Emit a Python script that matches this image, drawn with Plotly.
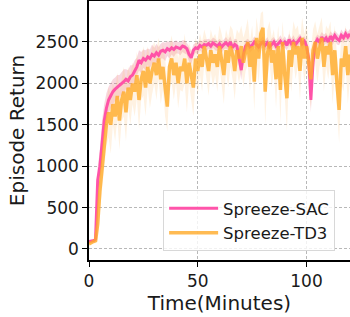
import plotly.graph_objects as go

time_min = list(range(0, 121))

sac_mean = [90, 95, 100, 120, 830, 1000, 1300, 1550, 1700, 1800,
            1850, 1900, 1930, 1950, 1970, 2000, 2020, 2050, 2030, 2080,
            2100, 2150, 2200, 2280, 2250, 2300, 2280, 2320, 2300, 2350,
            2330, 2370, 2340, 2390, 2400, 2380, 2420, 2400, 2430, 2410,
            2440, 2430, 2420, 2450, 2440, 2420, 2350, 2310, 2400, 2430,
            2420, 2460, 2440, 2470, 2460, 2480, 2450, 2490, 2470, 2450,
            2480, 2440, 2470, 2490, 2460, 2500, 2430, 2470, 2450, 2300,
            2160, 2350, 2450, 2480, 2440, 2460, 2500, 2470, 2440, 2480,
            2500, 2460, 2490, 2440, 2470, 2500, 2450, 2480, 2510, 2470,
            2500, 2460, 2530, 2480, 2510, 2470, 2500, 2540, 2480, 2510,
            2450, 2300, 1800, 2250, 2480, 2530, 2500, 2560, 2520, 2550,
            2500, 2570, 2530, 2580, 2540, 2520, 2580, 2550, 2600, 2560,
            2600]

sac_std = [20, 20, 20, 30, 150, 200, 250, 200, 180, 160,
           150, 150, 140, 150, 130, 140, 150, 120, 130, 140,
           120, 130, 110, 120, 130, 110, 120, 100, 110, 120,
           100, 110, 100, 90, 100, 110, 90, 100, 80, 90,
           80, 70, 80, 70, 80, 70, 90, 80, 70, 60,
           70, 60, 70, 60, 70, 60, 70, 60, 70, 60,
           60, 70, 60, 70, 60, 70, 60, 70, 80, 100,
           120, 90, 70, 60, 70, 60, 70, 60, 70, 60,
           70, 60, 70, 60, 70, 60, 70, 60, 70, 60,
           70, 60, 70, 60, 70, 60, 70, 60, 70, 60,
           80, 120, 150, 120, 70, 60, 70, 60, 70, 60,
           70, 60, 70, 60, 70, 60, 70, 60, 70, 60,
           60]

td3_mean = [60, 80, 90, 100, 300, 700, 1000, 1300, 1500, 1650,
            1500, 1750, 1600, 1850, 1550, 1800, 1900, 1650, 1950, 1800,
            2000, 1900, 2100, 1800, 2050, 2150, 1950, 2200, 2000, 2150,
            2250, 2100, 2300, 2050, 2200, 1950, 1720, 2200, 2300, 2100,
            2250, 2000, 2200, 2150, 2300, 2000, 2250, 2100, 1950, 2300,
            2150, 2350, 2200, 2450, 2300, 2150, 2400, 2250, 2350, 2200,
            2450, 2300, 2100, 2400, 2250, 2450, 2350, 2150, 2400, 2300,
            2450, 2250, 2400, 2500, 2200, 2450, 2020, 2550, 2300, 2600,
            2670, 1900, 2350, 2500, 2250, 2400, 2050, 2450, 1920, 2500,
            2100, 1820, 2400, 2200, 2500, 2350, 2450, 2150, 2550, 2300,
            2450, 2200, 2050, 2400, 2500, 2300, 2450, 2550, 2200, 2450,
            2350, 2500, 2100, 2400, 2000, 1680, 2300, 2200, 2450, 2100,
            2350]

td3_std = [20, 20, 20, 30, 200, 250, 300, 280, 250, 300,
           350, 250, 300, 280, 350, 250, 300, 350, 250, 300,
           250, 300, 280, 350, 250, 300, 350, 250, 300, 280,
           250, 300, 250, 300, 280, 350, 300, 250, 280, 300,
           250, 300, 280, 250, 300, 350, 250, 300, 350, 250,
           300, 250, 300, 200, 250, 300, 250, 300, 250, 300,
           250, 300, 350, 250, 300, 250, 300, 350, 250, 300,
           250, 300, 250, 280, 300, 250, 350, 250, 300, 250,
           200, 400, 300, 250, 300, 250, 350, 250, 400, 250,
           300, 400, 250, 300, 250, 300, 250, 350, 250, 300,
           250, 300, 350, 250, 250, 300, 250, 250, 300, 250,
           300, 250, 350, 300, 350, 400, 300, 300, 250, 350,
           300]

y_ticks = [0, 500, 1000, 1500, 2000, 2500]
x_ticks = [0, 50, 100]

PINK = "rgba(255,75,165,0.95)"
ORANGE = "rgba(255,170,40,0.8)"
PINK_BAND = "rgba(230,110,140,0.28)"
ORANGE_BAND = "rgba(255,190,110,0.2)"

fig = go.Figure()

def add_band(mean, std, color):
    lo = [m - s for m, s in zip(mean, std)]
    hi = [m + s for m, s in zip(mean, std)]
    fig.add_trace(go.Scatter(x=time_min, y=lo, mode="lines", line=dict(width=0),
                             showlegend=False, hoverinfo="skip"))
    fig.add_trace(go.Scatter(x=time_min, y=hi, mode="lines", line=dict(width=0),
                             fill="tonexty", fillcolor=color,
                             showlegend=False, hoverinfo="skip"))

add_band(sac_mean, sac_std, PINK_BAND)
add_band(td3_mean, td3_std, ORANGE_BAND)

fig.add_trace(go.Scatter(x=time_min, y=sac_mean, mode="lines", name="Spreeze-SAC",
                         line=dict(color=PINK, width=3)))
fig.add_trace(go.Scatter(x=time_min, y=td3_mean, mode="lines", name="Spreeze-TD3",
                         line=dict(color=ORANGE, width=3.5)))

font = dict(family="DejaVu Sans", size=17, color="#1a1a1a")
legend_font = dict(family="DejaVu Sans", size=16.5, color="#1a1a1a")

fig.update_layout(
    width=350, height=317,
    margin=dict(l=89, r=0, t=1, b=57),
    paper_bgcolor="white", plot_bgcolor="white",
    font=font,
    showlegend=True,
    legend=dict(x=0.284, y=0.27, xanchor="left", yanchor="top",
                traceorder="normal",
                bgcolor="rgba(255,255,255,0.8)", bordercolor="#d8d8d8", borderwidth=1,
                font=legend_font, itemwidth=49, tracegroupgap=2),
    xaxis=dict(range=[0, 120], tickvals=x_ticks, ticks="outside", ticklen=5,
               tickcolor="black", showline=True, linecolor="black", linewidth=1.5,
               mirror=True, showgrid=True, gridcolor="#b8b8b8", griddash="3px,2px",
               gridwidth=1, zeroline=False, automargin=False,
               title=dict(text="Time(Minutes)", standoff=2)),
    yaxis=dict(range=[-133, 2995], tickvals=y_ticks, ticks="outside", ticklen=5,
               tickcolor="black", showline=True, linecolor="black", linewidth=1.5,
               showgrid=True, gridcolor="#b8b8b8", griddash="3px,2px",
               gridwidth=1, zeroline=False, automargin=False,
               title=dict(text="Episode Return", standoff=6)),
)

fig.write_html("out.html", config={"displayModeBar": False},
               post_script="document.body.style.margin='0';")
